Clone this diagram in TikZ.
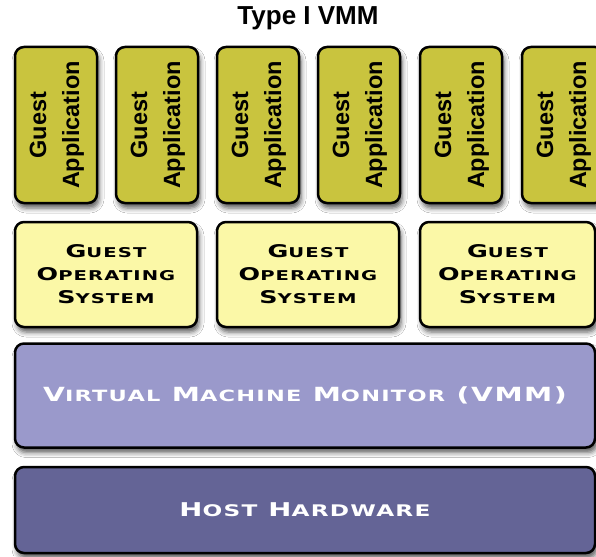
\documentclass[tikz,border=0pt]{standalone}
\usepackage{fontspec}
\setmainfont{Liberation Sans}
\newfontfamily\cpfont[FakeStretch=1.45,LetterSpace=8]{DejaVu Sans}
\usetikzlibrary{shadows.blur}
\definecolor{appfill}{HTML}{C9C43E}
\definecolor{osfill}{HTML}{FBF8A7}
\definecolor{vmmfill}{HTML}{9A99CB}
\definecolor{hwfill}{HTML}{646496}
\newcommand\SCx[2]{{\scBig #1}{\scSmall #2}}
\newcommand\apptext{\rotatebox{90}{\begin{tabular}{@{}c@{}}Guest\\Application\end{tabular}}}
\tikzset{
  layer/.style={draw=black, line width=2.5pt, rounded corners=9pt, inner sep=0pt,
    blur shadow={shadow xshift=2pt, shadow yshift=-5pt, shadow blur radius=5pt, shadow opacity=65}},
  appbox/.style={layer, fill=appfill, minimum width=82pt, minimum height=156pt,
    font=\bfseries\fontsize{23.5}{33}\selectfont},
  osbox/.style={layer, fill=osfill, align=center,
    font={\cpfont\bfseries\def\scBig{\fontsize{17.5}{23}\selectfont}\def\scSmall{\fontsize{13.5}{23}\selectfont}\scBig}},
  vmmbox/.style={layer, fill=vmmfill, text=white,
    font={\cpfont\bfseries\def\scBig{\fontsize{19.5}{23}\selectfont}\def\scSmall{\fontsize{15.5}{23}\selectfont}\scBig}},
  hwbox/.style={layer, fill=hwfill, text=white,
    font={\cpfont\bfseries\def\scBig{\fontsize{19}{23}\selectfont}\def\scSmall{\fontsize{16}{23}\selectfont}\scBig}},
  titletext/.style={font=\bfseries\fontsize{26}{28}\selectfont, inner sep=0pt}
}
\begin{document}
\begin{tikzpicture}[x=1pt,y=-1pt]
\clip (0,0) rectangle (596,556);
\fill[white] (0,0) rectangle (596,556);
\node[titletext] (title) at (308,18) {Type I VMM};
\node[appbox] (a1) at (56,125) {\apptext};
\node[appbox] (a2) at (157,125) {\apptext};
\node[appbox] (a3) at (258,125) {\apptext};
\node[appbox] (a4) at (359,125) {\apptext};
\node[appbox] (a5) at (461,125) {\apptext};
\node[appbox] (a6) at (563,125) {\apptext};
\node[osbox, minimum width=182pt, minimum height=105pt] (os1) at (106,274.5)
  {\SCx{G}{UEST}\\\SCx{O}{PERATING}\\\SCx{S}{YSTEM}};
\node[osbox, minimum width=182pt, minimum height=105pt] (os2) at (308,274.5)
  {\SCx{G}{UEST}\\\SCx{O}{PERATING}\\\SCx{S}{YSTEM}};
\node[osbox, minimum width=175pt, minimum height=105pt] (os3) at (507.5,274.5)
  {\SCx{G}{UEST}\\\SCx{O}{PERATING}\\\SCx{S}{YSTEM}};
\node[vmmbox, minimum width=580pt, minimum height=104pt] (vmm) at (305,395.5)
  {\SCx{V}{IRTUAL} \SCx{M}{ACHINE} \SCx{M}{ONITOR} (VMM)};
\node[hwbox, minimum width=580pt, minimum height=86pt] (hw) at (305,510)
  {\SCx{H}{OST} \SCx{H}{ARDWARE}};
\end{tikzpicture}
\end{document}
